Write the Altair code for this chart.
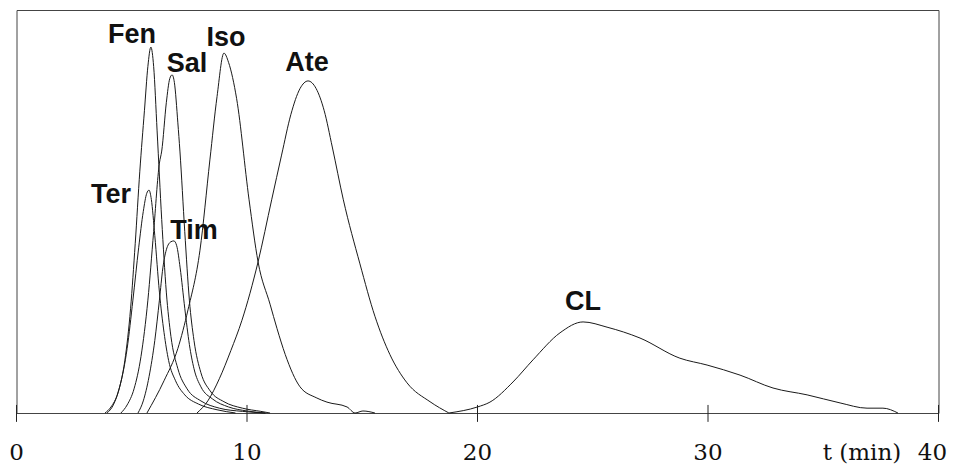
import altair as alt
import pandas as pd

# ---- chromatogram traces (t in min, signal in % of full scale) ----
fen_t = [3.84, 4.1, 4.4, 4.7, 4.95, 5.15, 5.35, 5.55, 5.7, 5.83, 5.95, 6.1, 6.3, 6.5, 6.7, 7.0, 7.4, 8.0, 8.8, 9.8, 10.8]
fen_v = [0, 1.5, 5, 13, 26, 42, 60, 75, 86, 90.8, 86, 70, 48, 30, 19, 11, 6, 3, 1.2, 0.4, 0]

ter_t = [3.93, 4.2, 4.5, 4.8, 5.05, 5.3, 5.5, 5.65, 5.75, 5.85, 6.0, 6.2, 6.4, 6.6, 6.9, 7.3, 7.9, 8.7, 9.5]
ter_v = [0, 2, 7, 16, 28, 41, 50, 54.5, 55.3, 53, 44, 30, 20, 13, 8, 4.5, 2.2, 0.8, 0]

sal_t = [4.53, 4.8, 5.1, 5.4, 5.7, 5.95, 6.2, 6.3, 6.5, 6.65, 6.75, 6.85, 7.0, 7.09, 7.3, 7.5, 7.7, 8.0, 8.4, 9.0, 9.8, 10.6, 11.0]
sal_v = [0, 2, 6, 14, 28, 45, 62, 65, 77, 83, 83.9, 82, 72, 65, 45, 28, 18, 10, 5.5, 2.8, 1.2, 0.4, 0]

tim_t = [5.27, 5.5, 5.75, 6.0, 6.2, 6.35, 6.5, 6.7, 6.83, 6.95, 7.1, 7.3, 7.5, 7.7, 8.0, 8.5, 9.2, 10.0, 10.8]
tim_v = [0, 3, 9, 18, 28, 36, 40.5, 42.5, 42.7, 41.5, 36, 26, 17, 11, 6.5, 3.5, 1.5, 0.5, 0]

iso_t = [5.66, 6.4, 7.0, 7.44, 7.96, 8.39, 8.7, 9.0, 9.2, 9.55, 10.09, 10.48, 11.0, 11.3, 11.66, 12.3, 13.0, 13.47, 14.34, 14.69, 15.03, 15.55]
iso_v = [0, 8, 16, 25.6, 40.4, 62.8, 78.5, 89.3, 87, 78, 52.9, 37.5, 27, 21, 14.5, 6.5, 3.8, 2.7, 1.5, 0, 0.5, 0]

ate_t = [7.83, 8.3, 8.8, 9.3, 9.78, 10.48, 11.07, 11.5, 11.9, 12.3, 12.65, 13.0, 13.35, 13.7,
         14.18, 14.9, 15.55, 16.2, 16.94, 17.94, 18.76]
ate_v = [0, 3, 8.5, 15.5, 23, 37.5, 52.9, 64, 74, 80.5, 82.4, 80.5, 75, 66,
         52.9, 37, 24, 14.5, 7.5, 2.8, 0]

cl_t = [18.76, 20.0, 20.54, 21.54, 22.41, 23.58, 24.58, 25.62, 27.05, 28.78, 29.96, 31.39, 32.82, 34.3, 35.73, 36.9, 37.59, 38.24]
cl_v = [0, 1.5, 2.7, 7.7, 13.2, 19.9, 22.6, 21.3, 18.6, 13.6, 11.9, 9.4, 6.2, 4.5, 2.5, 1.2, 1.2, 0]

# ---- peak labels ----
label_names = ["Fen", "Sal", "Iso", "Ate", "Ter", "Tim", "CL"]
label_t = [5.01, 7.40, 9.09, 12.6, 4.10, 7.70, 24.58]
label_v = [91.8, 84.6, 91.1, 84.9, 52.1, 43.2, 25.6]

# ---- axis ----
tick_values = [0, 10, 20, 30, 40]
tick_labels = ["0", "10", "20", "30", "40"]
last_label_dx = -6
axis_title = "t (min)"
axis_title_t = 36.68
label_row_v = -11.6

series = [
    ("Fen", fen_t, fen_v), ("Ter", ter_t, ter_v), ("Sal", sal_t, sal_v),
    ("Tim", tim_t, tim_v), ("Iso", iso_t, iso_v), ("Ate", ate_t, ate_v),
    ("CL", cl_t, cl_v),
]
rows = []
for name, ts, vs in series:
    for i, (t, v) in enumerate(zip(ts, vs)):
        rows.append({"series": name, "t": t, "v": v, "i": i})
traces = pd.DataFrame(rows)

xs = alt.Scale(domain=[0, 40], nice=False, zero=False)
ys = alt.Scale(domain=[0, 100], nice=False, zero=False)


def X(field):
    return alt.X(field, type="quantitative", scale=xs, axis=None)


def Y(field):
    return alt.Y(field, type="quantitative", scale=ys, axis=None)


lines = alt.Chart(traces).mark_line(color="#1a1a1a", strokeWidth=1, interpolate="monotone").encode(
    x=X("t"), y=Y("v"), detail="series:N", order="i:Q",
)

peak_df = pd.DataFrame({"name": label_names, "t": label_t, "v": label_v})
peak_text = alt.Chart(peak_df).mark_text(
    font="Liberation Sans", fontSize=27, fontWeight="bold", align="center",
    baseline="alphabetic", color="#111111"
).encode(x=X("t"), y=Y("v"), text="name:N")

ticks_df = pd.DataFrame({"t": tick_values, "lab": tick_labels,
                         "v1": [2.0] * len(tick_values), "v2": [-2.2] * len(tick_values),
                         "vl": [label_row_v] * len(tick_values)})
tick_rules = alt.Chart(ticks_df).mark_rule(color="#222222", strokeWidth=1).encode(
    x=X("t"), y=Y("v1"), y2="v2:Q"
)
tick_text_main = alt.Chart(ticks_df.iloc[:4]).mark_text(
    font="DejaVu Serif", fontSize=23, align="center", baseline="alphabetic", color="#111111"
).encode(x=X("t"), y=Y("vl"), text="lab:N")
tick_text_last = alt.Chart(ticks_df.iloc[4:]).mark_text(
    font="DejaVu Serif", fontSize=23, align="center", baseline="alphabetic", color="#111111",
    dx=last_label_dx
).encode(x=X("t"), y=Y("vl"), text="lab:N")

title_df = pd.DataFrame({"t": [axis_title_t], "v": [label_row_v], "lab": [axis_title]})
title_text = alt.Chart(title_df).mark_text(
    font="DejaVu Serif", fontSize=23, align="center", baseline="alphabetic", color="#111111"
).encode(x=X("t"), y=Y("v"), text="lab:N")

chart = alt.layer(lines, peak_text, tick_rules, tick_text_main, tick_text_last, title_text).properties(
    width=922, height=403,
    autosize=alt.AutoSizeParams(type="none"),
    padding={"left": 8.5, "top": 2, "right": 10, "bottom": 51},
).configure(background="white").configure_view(stroke="#444444", strokeWidth=1)

chart.save("out.html", embed_options={"renderer": "svg", "actions": False})
